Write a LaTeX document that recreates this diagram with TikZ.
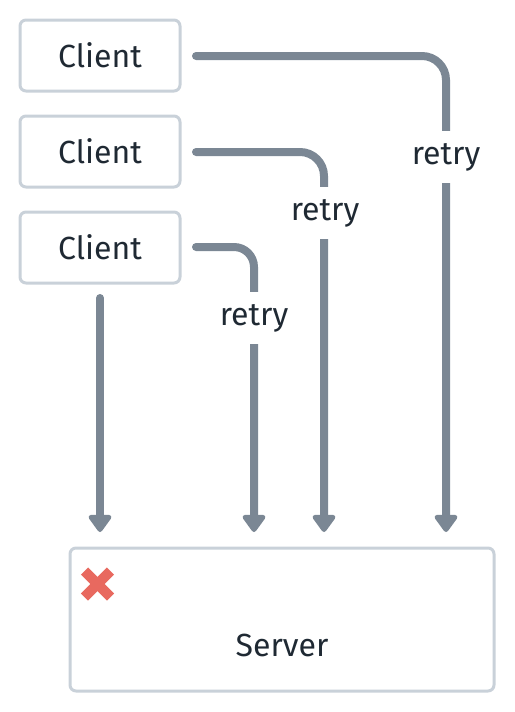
\documentclass[tikz,border=0pt]{standalone}
\usepackage{fontspec}
\setmainfont{Fira Sans}
\usetikzlibrary{arrows.meta}
\definecolor{boxline}{HTML}{C9D1D9}
\definecolor{flowc}{HTML}{7B8794}
\definecolor{txt}{HTML}{1F2933}
\definecolor{failred}{HTML}{E8695F}
\tikzset{
  clientbox/.style={draw=boxline, line width=3pt, rounded corners=6pt, fill=white,
    minimum width=160pt, minimum height=71pt, text=txt, font=\fontsize{32}{38}\selectfont},
  serverbox/.style={draw=boxline, line width=3pt, rounded corners=6pt, fill=white,
    minimum width=424pt, minimum height=143pt},
  txtnode/.style={text=txt, font=\fontsize{32}{38}\selectfont},
  retrylabel/.style={fill=white, text=txt, font=\fontsize{32}{38}\selectfont, inner xsep=2pt, minimum height=52pt},
  flow/.style={draw=flowc, line width=8pt, line cap=round, rounded corners=24pt,
    -{Triangle[width=26pt,length=19pt,round]}},
}
\begin{document}
\begin{tikzpicture}[x=1pt,y=-1pt]
\useasboundingbox (0,0) rectangle (514,712);
\node[clientbox] (c1) at (100,55.5) {Client};
\node[clientbox] (c2) at (100,151.5) {Client};
\node[clientbox] (c3) at (100,247.5) {Client};
\node[serverbox] (srv) at (282,619.5) {};
\node[txtnode] (srvtext) at (282,645) {Server};
% X mark
\coordinate (xm) at (97.5,584);
\draw[failred, line width=10pt] ([shift={(-13,-13)}]xm) -- ([shift={(13,13)}]xm);
\draw[failred, line width=10pt] ([shift={(-13,13)}]xm) -- ([shift={(13,-13)}]xm);
% arrow end coordinates
\coordinate (t1) at (446,532);
\coordinate (t2) at (324,532);
\coordinate (t3) at (254,532);
\coordinate (t4) at (100,532);
\coordinate (s1) at (196,56);
\coordinate (s2) at (196,152);
\coordinate (s3) at (196,247);
\coordinate (s4) at (100,298);
\draw[flow] (s1) -| (t1);
\draw[flow] (s2) -| (t2);
\draw[flow, rounded corners=20pt] (s3) -| (t3);
\draw[flow] (s4) -- (t4);
\node[retrylabel] (r1) at (446,157) {retry};
\node[retrylabel] (r2) at (325,213) {retry};
\node[retrylabel] (r3) at (254,318) {retry};
\end{tikzpicture}
\end{document}
